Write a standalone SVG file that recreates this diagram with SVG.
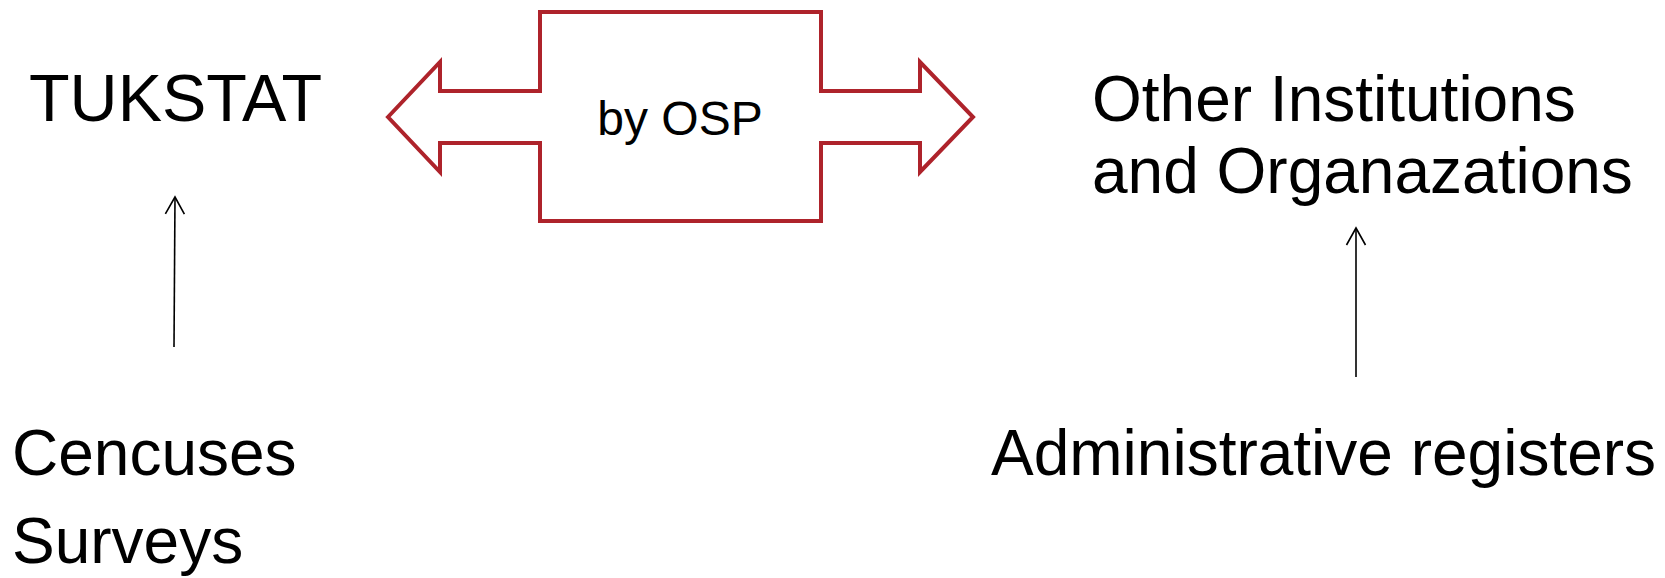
<svg xmlns="http://www.w3.org/2000/svg" width="1665" height="578" viewBox="0 0 1665 578">
<defs>
<style>
.t{font-family:"Liberation Sans",Arial,sans-serif;font-size:64px;fill:#000}
.s{font-family:"Liberation Sans",Arial,sans-serif;font-size:48px;fill:#000}
.c{stroke:#000;stroke-width:1.6;fill:none}
</style>
<marker id="ah" markerWidth="24" markerHeight="24" viewBox="-20 -12 24 24" refX="0" refY="0" orient="auto" markerUnits="userSpaceOnUse">
<path d="M-17,-9.5 L0,0 L-17,9.5" fill="none" stroke="#000" stroke-width="1.6"/>
</marker>
</defs>
<rect width="1665" height="578" fill="#fff"/>
<g id="tukstat"><text class="t" x="29" y="121" style="font-size:66.5px">TUKSTAT</text></g>
<g id="osp">
<polygon points="388,117 440,62 440,91 540,91 540,12 821,12 821,91 920,91 920,62 973,117 920,172 920,143 821,143 821,221 540,221 540,143 440,143 440,172" fill="#fff" stroke="#AE232B" stroke-width="4"/>
<text class="s" x="680" y="135" text-anchor="middle">by OSP</text>
</g>
<g id="other"><text class="t" x="1092" y="121">Other Institutions</text><text class="t" x="1092" y="193">and Organazations</text></g>
<g id="sources"><text class="t" x="12" y="475">Cencuses</text><text class="t" x="12" y="563">Surveys</text></g>
<g id="admin"><text class="t" x="991" y="475">Administrative registers</text></g>
<g id="connectors">
<line class="c" x1="174" y1="347" x2="175" y2="197" marker-end="url(#ah)"/>
<line class="c" x1="1356" y1="377" x2="1356" y2="228" marker-end="url(#ah)"/>
</g>
</svg>
